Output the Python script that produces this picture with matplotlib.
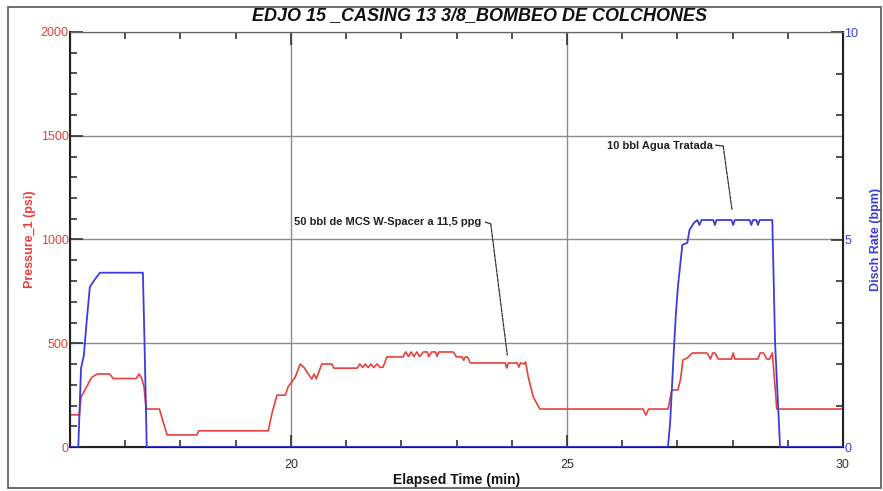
import numpy as np
import matplotlib
matplotlib.use("Agg")
import matplotlib.pyplot as plt
from matplotlib.ticker import MultipleLocator
from matplotlib.patches import Rectangle

plt.rcParams['font.family'] = ['Liberation Sans', 'DejaVu Sans']

# pressure trace (min, psi)
tPress = [16.00, 16.17, 16.20, 16.25, 16.30, 16.35, 16.40, 16.50, 16.72, 16.78, 17.20, 17.25, 17.30,
          17.34, 17.38, 17.62, 17.66, 17.70, 17.76, 18.30, 18.33, 19.59, 19.66, 19.75, 19.90, 19.95,
          20.08, 20.17, 20.25, 20.30, 20.38, 20.42, 20.46, 20.56, 20.74, 20.78, 21.20, 21.25, 21.30,
          21.35, 21.40, 21.45, 21.50, 21.56, 21.62, 21.67, 21.74, 22.03, 22.08, 22.13, 22.18, 22.23,
          22.28, 22.33, 22.40, 22.47, 22.50, 22.55, 22.62, 22.65, 22.68, 22.94, 23.00, 23.10, 23.13,
          23.16, 23.20, 23.25, 23.88, 23.91, 23.94, 24.10, 24.13, 24.16, 24.22, 24.25, 24.30, 24.39,
          24.45, 24.51, 26.38, 26.43, 26.48, 26.83, 26.90, 27.01, 27.06, 27.10, 27.18, 27.27, 27.54,
          27.60, 27.64, 27.68, 27.74, 27.98, 28.01, 28.04, 28.46, 28.50, 28.56, 28.62, 28.67, 28.72,
          28.77, 28.80, 30.00]
pPress = [155, 155, 240, 265, 290, 315, 337, 352, 352, 330, 330, 352, 330,
          290, 183, 183, 145, 110, 58, 58, 78, 78, 165, 250, 250, 290,
          337, 400, 380, 357, 328, 352, 328, 400, 400, 380, 380, 400, 383,
          400, 383, 400, 383, 400, 383, 385, 434, 434, 458, 436, 458, 436,
          458, 436, 458, 458, 436, 458, 458, 436, 458, 458, 434, 434, 418,
          434, 434, 405, 405, 380, 405, 405, 385, 405, 400, 410, 337, 241,
          212, 183, 183, 154, 183, 183, 275, 275, 330, 419, 429, 453, 453,
          424, 453, 453, 424, 424, 453, 424, 424, 453, 453, 424, 424, 453,
          290, 183, 183]

# discharge rate trace (min, bpm)
tRate = [16.00, 16.15, 16.20, 16.25, 16.30, 16.36, 16.42, 16.54, 17.32, 17.35, 17.39, 26.83, 26.87,
         26.93, 26.97, 27.01, 27.09, 27.18, 27.22, 27.30, 27.36, 27.40, 27.44, 27.65, 27.68, 27.71,
         27.98, 28.01, 28.04, 28.31, 28.34, 28.37, 28.43, 28.46, 28.49, 28.72, 28.77, 28.86, 30.00]
rRate = [0, 0, 1.9, 2.2, 3.0, 3.86, 3.98, 4.2, 4.2, 2.5, 0, 0, 0.6,
         2.17, 3.13, 3.86, 4.87, 4.92, 5.23, 5.4, 5.47, 5.35, 5.47, 5.47, 5.35, 5.47,
         5.47, 5.35, 5.47, 5.47, 5.35, 5.47, 5.47, 5.35, 5.47, 5.47, 2.5, 0, 0]

# annotations: text, text anchor (t, psi), hook start, corner, end point
annText = ['50 bbl de MCS W-Spacer a 11,5 ppg', '10 bbl Agua Tratada']
annTextPos = [(23.45, 1084), (27.64, 1451)]
annHook = [(23.52, 1084), (27.69, 1455)]
annCorner = [(23.62, 1075), (27.83, 1450)]
annEnd = [(23.92, 443), (27.99, 1142)]

colRed = '#e8403e'
colBlue = '#3c3cdc'


def main():
    fig = plt.figure(figsize=(8.83, 4.91), dpi=100)
    fig.patches.append(Rectangle((8 / 883, 3 / 491), 873 / 883, 481 / 491, transform=fig.transFigure,
                                 fill=False, edgecolor='#555555', lw=1.2))
    ax1 = fig.add_axes([70 / 883, 1 - 447 / 491, 773 / 883, 415 / 491])
    ax2 = ax1.twinx()

    ax1.plot(tPress, pPress, color=colRed, lw=1.2, zorder=3)
    ax2.plot(tRate, rRate, color=colBlue, lw=1.3, zorder=3)

    ax1.set_xlim(16, 30)
    ax1.set_ylim(0, 2000)
    ax2.set_ylim(0, 10)

    ax1.xaxis.set_major_locator(MultipleLocator(5))
    ax1.xaxis.set_minor_locator(MultipleLocator(1))
    ax1.yaxis.set_major_locator(MultipleLocator(500))
    ax1.yaxis.set_minor_locator(MultipleLocator(100))
    ax2.yaxis.set_major_locator(MultipleLocator(5))
    ax2.yaxis.set_minor_locator(MultipleLocator(1))

    ax1.tick_params(axis='both', which='both', direction='in', top=True, right=False,
                    color='#333333', width=1.2)
    ax1.tick_params(which='major', length=9)
    ax1.tick_params(which='minor', length=5)
    ax1.tick_params(axis='x', labelsize=9, colors='#333333', pad=9)
    ax1.tick_params(axis='y', labelsize=9, labelcolor=colRed, pad=1)
    ax2.tick_params(axis='y', which='both', direction='in', color='#333333', width=1.2,
                    labelsize=9, labelcolor=colBlue, pad=1)
    ax2.tick_params(axis='y', which='major', length=9)
    ax2.tick_params(axis='y', which='minor', length=5)

    ax1.grid(True, which='major', color='#8c8c8c', lw=1.0)
    ax1.set_axisbelow(True)
    for side in ['left', 'bottom', 'right']:
        ax2.spines[side].set_color('#222222')
        ax2.spines[side].set_linewidth(1.5)
    ax2.spines['top'].set_color('#666666')
    ax1.spines['top'].set_color('#666666')

    ax1.set_xlabel('Elapsed Time (min)', fontsize=10, fontweight='bold', color='#111111', labelpad=1)
    ax1.set_ylabel('Pressure_1 (psi)', fontsize=9, fontweight='bold', color=colRed, labelpad=3)
    ax2.set_ylabel('Disch Rate (bpm)', fontsize=9, fontweight='bold', color=colBlue, labelpad=8)

    for txt, pos, hook, corner, end in zip(annText, annTextPos, annHook, annCorner, annEnd):
        ax1.text(pos[0], pos[1], txt, ha='right', va='center', fontsize=8, fontweight='bold',
                 color='#222222')
        ax1.annotate('', xy=corner, xytext=hook,
                     arrowprops=dict(arrowstyle='-', color='#333333', lw=0.9, shrinkA=0, shrinkB=0))
        ax1.annotate('', xy=end, xytext=corner,
                     arrowprops=dict(arrowstyle='-', color='#333333', lw=0.9, linestyle=(0, (3, 1)),
                                     shrinkA=0, shrinkB=0))

    fig.text(479 / 883, 1 - 16 / 491, 'EDJO 15 _CASING 13 3/8_BOMBEO DE COLCHONES', ha='center',
             va='center', fontsize=13, fontweight='bold', fontstyle='italic', color='#111111')

    fig.savefig('out.png', dpi=100)


if __name__ == "__main__":
    main()
